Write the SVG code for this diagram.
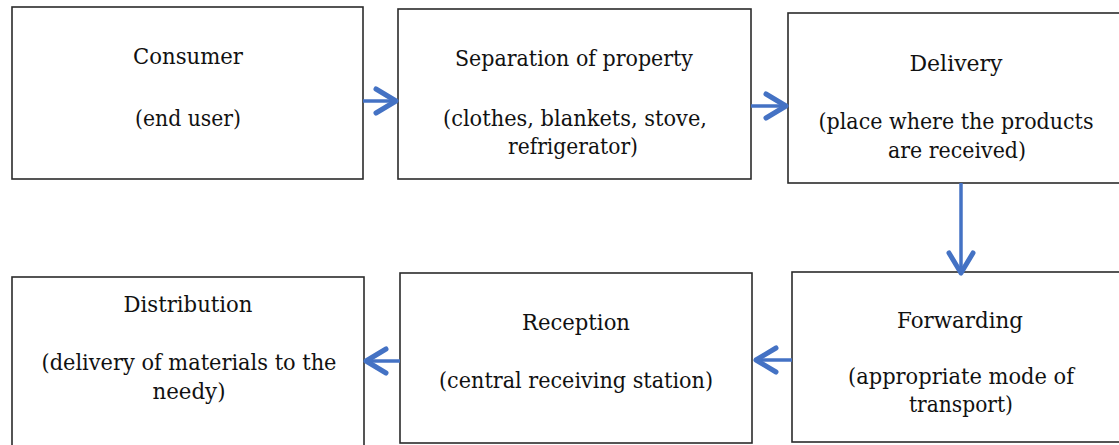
<svg xmlns="http://www.w3.org/2000/svg" width="1119" height="445" viewBox="0 0 1119 445">
<style>
.box{fill:#fff;stroke:#2b2b2b;stroke-width:1.6}
.t{font-family:"DejaVu Serif","Liberation Serif",serif;font-size:22px;fill:#111;text-anchor:middle}
.c{stroke:#4472c4;stroke-width:3.5;fill:none;marker-end:url(#ah)}
</style>
<defs>
<marker id="ah" markerUnits="userSpaceOnUse" markerWidth="30" markerHeight="30" refX="0" refY="0" viewBox="-26 -15 30 30" orient="auto" overflow="visible">
<path d="M-21,-12 L-1,0 L-21,12" fill="none" stroke="#4472c4" stroke-width="5" stroke-linecap="round" stroke-linejoin="round"/>
</marker>
</defs>
<rect width="1119" height="445" fill="#fff"/>
<g id="consumer">
<rect class="box" x="12" y="7" width="351" height="172"/>
<text class="t" x="188" y="64" textLength="110" lengthAdjust="spacingAndGlyphs">Consumer</text>
<text class="t" x="188" y="126" textLength="106" lengthAdjust="spacingAndGlyphs">(end user)</text>
</g>
<g id="separation">
<rect class="box" x="398" y="9" width="353" height="170"/>
<text class="t" x="574" y="66" textLength="238" lengthAdjust="spacingAndGlyphs">Separation of property</text>
<text class="t" x="575" y="126" textLength="264" lengthAdjust="spacingAndGlyphs">(clothes, blankets, stove,</text>
<text class="t" x="573" y="154" textLength="130" lengthAdjust="spacingAndGlyphs">refrigerator)</text>
</g>
<g id="delivery">
<rect class="box" x="788" y="13" width="340" height="170"/>
<text class="t" x="956" y="71" textLength="93" lengthAdjust="spacingAndGlyphs">Delivery</text>
<text class="t" x="956" y="129" textLength="275" lengthAdjust="spacingAndGlyphs">(place where the products</text>
<text class="t" x="957" y="158" textLength="138" lengthAdjust="spacingAndGlyphs">are received)</text>
</g>
<g id="forwarding">
<rect class="box" x="792" y="272" width="340" height="170"/>
<text class="t" x="960" y="328" textLength="126" lengthAdjust="spacingAndGlyphs">Forwarding</text>
<text class="t" x="961" y="384" textLength="226" lengthAdjust="spacingAndGlyphs">(appropriate mode of</text>
<text class="t" x="961" y="412" textLength="104" lengthAdjust="spacingAndGlyphs">transport)</text>
</g>
<g id="reception">
<rect class="box" x="400" y="273" width="352" height="170"/>
<text class="t" x="576" y="330" textLength="108" lengthAdjust="spacingAndGlyphs">Reception</text>
<text class="t" x="576" y="388" textLength="274" lengthAdjust="spacingAndGlyphs">(central receiving station)</text>
</g>
<g id="distribution">
<rect class="box" x="12" y="277" width="352" height="180"/>
<text class="t" x="188" y="312" textLength="129" lengthAdjust="spacingAndGlyphs">Distribution</text>
<text class="t" x="189" y="370" textLength="295" lengthAdjust="spacingAndGlyphs">(delivery of materials to the</text>
<text class="t" x="189" y="399" textLength="73" lengthAdjust="spacingAndGlyphs">needy)</text>
</g>
<g id="connectors">
<line class="c" x1="363" y1="101" x2="397" y2="101"/>
<line class="c" x1="751" y1="106" x2="787" y2="106"/>
<line class="c" x1="961" y1="183" x2="961" y2="274"/>
<line class="c" x1="792" y1="360" x2="755" y2="360"/>
<line class="c" x1="400" y1="361" x2="365" y2="361"/>
</g>
</svg>
